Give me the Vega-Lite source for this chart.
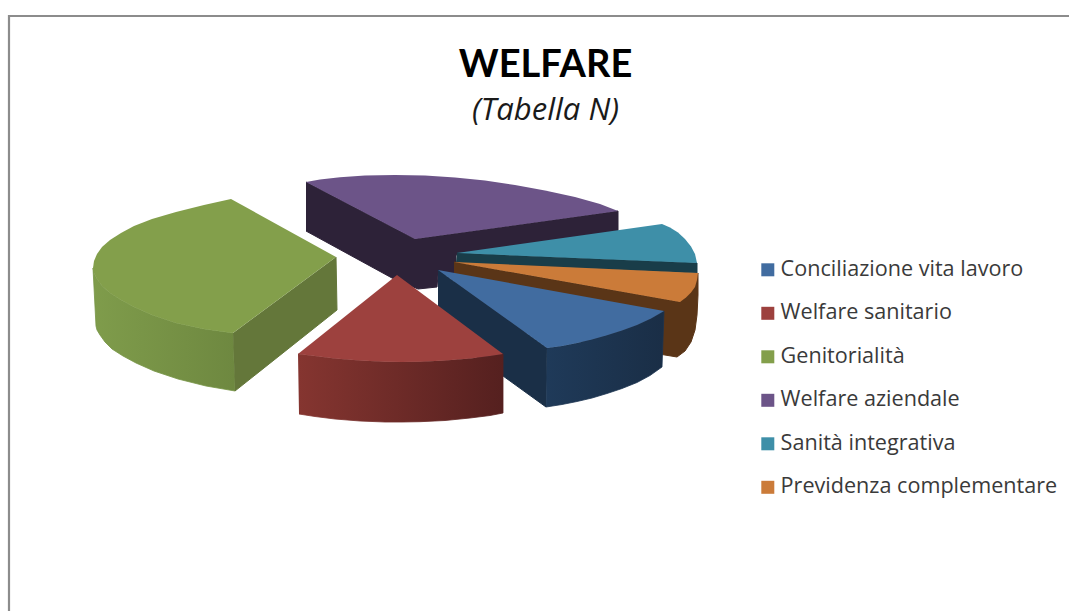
{"$schema":"https://vega.github.io/schema/vega-lite/v6.json","width":1069,"height":611,"padding":0,"autosize":{"type":"none"},"background":"#ffffff","view":{"stroke":null},
"title":{"text":"WELFARE","subtitle":"(Tabella N)","anchor":"middle","frame":"group","dx":11,"dy":156,"baseline":"alphabetic","font":"Lato","fontSize":38,"fontWeight":"bold","color":"#000000","subtitleFont":"Open Sans","subtitleFontSize":31,"subtitleFontStyle":"italic","subtitleColor":"#1a1a1a","subtitlePadding":5,"offset":0},
"datasets":{"outline":[
{"face":"frame","slice":"frame","n":0,"x":9,"y":611},{"face":"frame","slice":"frame","n":1,"x":9,"y":16},{"face":"frame","slice":"frame","n":2,"x":1069,"y":16},
{"face":"purple_wall","slice":"Welfare aziendale","n":0,"x":306,"y":182},{"face":"purple_wall","slice":"Welfare aziendale","n":1,"x":415,"y":239},{"face":"purple_wall","slice":"Welfare aziendale","n":2,"x":618,"y":211},{"face":"purple_wall","slice":"Welfare aziendale","n":3,"x":618,"y":231},{"face":"purple_wall","slice":"Welfare aziendale","n":4,"x":456,"y":255},{"face":"purple_wall","slice":"Welfare aziendale","n":5,"x":456,"y":275},{"face":"purple_wall","slice":"Welfare aziendale","n":6,"x":438,"y":275},{"face":"purple_wall","slice":"Welfare aziendale","n":7,"x":437,"y":287},{"face":"purple_wall","slice":"Welfare aziendale","n":8,"x":418,"y":289},{"face":"purple_wall","slice":"Welfare aziendale","n":9,"x":392,"y":278},{"face":"purple_wall","slice":"Welfare aziendale","n":10,"x":306,"y":231},
{"face":"purple_top","slice":"Welfare aziendale","n":0,"x":306,"y":182},{"face":"purple_top","slice":"Welfare aziendale","n":1,"x":320,"y":179.5},{"face":"purple_top","slice":"Welfare aziendale","n":2,"x":340,"y":177.2},{"face":"purple_top","slice":"Welfare aziendale","n":3,"x":365,"y":175.6},{"face":"purple_top","slice":"Welfare aziendale","n":4,"x":395,"y":175},{"face":"purple_top","slice":"Welfare aziendale","n":5,"x":425,"y":175.6},{"face":"purple_top","slice":"Welfare aziendale","n":6,"x":455,"y":177.5},{"face":"purple_top","slice":"Welfare aziendale","n":7,"x":485,"y":180.6},{"face":"purple_top","slice":"Welfare aziendale","n":8,"x":515,"y":185},{"face":"purple_top","slice":"Welfare aziendale","n":9,"x":545,"y":190.4},{"face":"purple_top","slice":"Welfare aziendale","n":10,"x":575,"y":197},{"face":"purple_top","slice":"Welfare aziendale","n":11,"x":600,"y":204},{"face":"purple_top","slice":"Welfare aziendale","n":12,"x":618,"y":211},{"face":"purple_top","slice":"Welfare aziendale","n":13,"x":415,"y":239},
{"face":"teal_wall","slice":"Sanità integrativa","n":0,"x":457,"y":253},{"face":"teal_wall","slice":"Sanità integrativa","n":1,"x":697,"y":263},{"face":"teal_wall","slice":"Sanità integrativa","n":2,"x":697,"y":273},{"face":"teal_wall","slice":"Sanità integrativa","n":3,"x":456,"y":263},
{"face":"teal_top","slice":"Sanità integrativa","n":0,"x":457,"y":253},{"face":"teal_top","slice":"Sanità integrativa","n":1,"x":662,"y":224},{"face":"teal_top","slice":"Sanità integrativa","n":2,"x":670,"y":227.5},{"face":"teal_top","slice":"Sanità integrativa","n":3,"x":678,"y":232.5},{"face":"teal_top","slice":"Sanità integrativa","n":4,"x":685,"y":239},{"face":"teal_top","slice":"Sanità integrativa","n":5,"x":691,"y":246.5},{"face":"teal_top","slice":"Sanità integrativa","n":6,"x":695,"y":254},{"face":"teal_top","slice":"Sanità integrativa","n":7,"x":697,"y":263},
{"face":"orange_wall","slice":"Previdenza complementare","n":0,"x":454,"y":262},{"face":"orange_wall","slice":"Previdenza complementare","n":1,"x":680,"y":302},{"face":"orange_wall","slice":"Previdenza complementare","n":2,"x":698,"y":273},{"face":"orange_wall","slice":"Previdenza complementare","n":3,"x":698,"y":295},{"face":"orange_wall","slice":"Previdenza complementare","n":4,"x":697,"y":315},{"face":"orange_wall","slice":"Previdenza complementare","n":5,"x":695,"y":330},{"face":"orange_wall","slice":"Previdenza complementare","n":6,"x":691,"y":342},{"face":"orange_wall","slice":"Previdenza complementare","n":7,"x":685,"y":351},{"face":"orange_wall","slice":"Previdenza complementare","n":8,"x":677,"y":357},{"face":"orange_wall","slice":"Previdenza complementare","n":9,"x":454,"y":320},
{"face":"orange_top","slice":"Previdenza complementare","n":0,"x":454,"y":262},{"face":"orange_top","slice":"Previdenza complementare","n":1,"x":698,"y":273},{"face":"orange_top","slice":"Previdenza complementare","n":2,"x":697,"y":280},{"face":"orange_top","slice":"Previdenza complementare","n":3,"x":695,"y":287},{"face":"orange_top","slice":"Previdenza complementare","n":4,"x":691,"y":292.5},{"face":"orange_top","slice":"Previdenza complementare","n":5,"x":686,"y":297.5},{"face":"orange_top","slice":"Previdenza complementare","n":6,"x":680,"y":302},
{"face":"blue_wall","slice":"Conciliazione vita lavoro","n":0,"x":438,"y":270},{"face":"blue_wall","slice":"Conciliazione vita lavoro","n":1,"x":547,"y":348},{"face":"blue_wall","slice":"Conciliazione vita lavoro","n":2,"x":546,"y":407},{"face":"blue_wall","slice":"Conciliazione vita lavoro","n":3,"x":438,"y":329},
{"face":"blue_outer","slice":"Conciliazione vita lavoro","n":0,"x":547,"y":348},{"face":"blue_outer","slice":"Conciliazione vita lavoro","n":1,"x":562,"y":346},{"face":"blue_outer","slice":"Conciliazione vita lavoro","n":2,"x":577,"y":343},{"face":"blue_outer","slice":"Conciliazione vita lavoro","n":3,"x":592,"y":339.5},{"face":"blue_outer","slice":"Conciliazione vita lavoro","n":4,"x":607,"y":335.2},{"face":"blue_outer","slice":"Conciliazione vita lavoro","n":5,"x":622,"y":330.5},{"face":"blue_outer","slice":"Conciliazione vita lavoro","n":6,"x":637,"y":325},{"face":"blue_outer","slice":"Conciliazione vita lavoro","n":7,"x":651,"y":318.5},{"face":"blue_outer","slice":"Conciliazione vita lavoro","n":8,"x":664,"y":311},{"face":"blue_outer","slice":"Conciliazione vita lavoro","n":9,"x":662,"y":367},{"face":"blue_outer","slice":"Conciliazione vita lavoro","n":10,"x":650,"y":375.5},{"face":"blue_outer","slice":"Conciliazione vita lavoro","n":11,"x":637,"y":382.5},{"face":"blue_outer","slice":"Conciliazione vita lavoro","n":12,"x":622,"y":388.5},{"face":"blue_outer","slice":"Conciliazione vita lavoro","n":13,"x":607,"y":393.5},{"face":"blue_outer","slice":"Conciliazione vita lavoro","n":14,"x":592,"y":398},{"face":"blue_outer","slice":"Conciliazione vita lavoro","n":15,"x":577,"y":401.5},{"face":"blue_outer","slice":"Conciliazione vita lavoro","n":16,"x":562,"y":404.5},{"face":"blue_outer","slice":"Conciliazione vita lavoro","n":17,"x":546,"y":407},
{"face":"blue_top","slice":"Conciliazione vita lavoro","n":0,"x":438,"y":270},{"face":"blue_top","slice":"Conciliazione vita lavoro","n":1,"x":664,"y":311},{"face":"blue_top","slice":"Conciliazione vita lavoro","n":2,"x":651,"y":318.5},{"face":"blue_top","slice":"Conciliazione vita lavoro","n":3,"x":637,"y":325},{"face":"blue_top","slice":"Conciliazione vita lavoro","n":4,"x":622,"y":330.5},{"face":"blue_top","slice":"Conciliazione vita lavoro","n":5,"x":607,"y":335.2},{"face":"blue_top","slice":"Conciliazione vita lavoro","n":6,"x":592,"y":339.5},{"face":"blue_top","slice":"Conciliazione vita lavoro","n":7,"x":577,"y":343},{"face":"blue_top","slice":"Conciliazione vita lavoro","n":8,"x":562,"y":346},{"face":"blue_top","slice":"Conciliazione vita lavoro","n":9,"x":547,"y":348},
{"face":"green_wall","slice":"Genitorialità","n":0,"x":336,"y":257},{"face":"green_wall","slice":"Genitorialità","n":1,"x":337,"y":310},{"face":"green_wall","slice":"Genitorialità","n":2,"x":235,"y":391},{"face":"green_wall","slice":"Genitorialità","n":3,"x":233,"y":333},
{"face":"green_outer","slice":"Genitorialità","n":0,"x":233,"y":333},{"face":"green_outer","slice":"Genitorialità","n":1,"x":204,"y":329},{"face":"green_outer","slice":"Genitorialità","n":2,"x":176,"y":323},{"face":"green_outer","slice":"Genitorialità","n":3,"x":152,"y":315},{"face":"green_outer","slice":"Genitorialità","n":4,"x":134,"y":307},{"face":"green_outer","slice":"Genitorialità","n":5,"x":121,"y":300},{"face":"green_outer","slice":"Genitorialità","n":6,"x":110,"y":293},{"face":"green_outer","slice":"Genitorialità","n":7,"x":102,"y":286},{"face":"green_outer","slice":"Genitorialità","n":8,"x":97,"y":279},{"face":"green_outer","slice":"Genitorialità","n":9,"x":94,"y":273},{"face":"green_outer","slice":"Genitorialità","n":10,"x":93,"y":268},{"face":"green_outer","slice":"Genitorialità","n":11,"x":96,"y":326},{"face":"green_outer","slice":"Genitorialità","n":12,"x":97,"y":330},{"face":"green_outer","slice":"Genitorialità","n":13,"x":100,"y":335},{"face":"green_outer","slice":"Genitorialità","n":14,"x":105,"y":342},{"face":"green_outer","slice":"Genitorialità","n":15,"x":112,"y":349},{"face":"green_outer","slice":"Genitorialità","n":16,"x":123,"y":356},{"face":"green_outer","slice":"Genitorialità","n":17,"x":136,"y":363},{"face":"green_outer","slice":"Genitorialità","n":18,"x":154,"y":371},{"face":"green_outer","slice":"Genitorialità","n":19,"x":178,"y":379},{"face":"green_outer","slice":"Genitorialità","n":20,"x":206,"y":386},{"face":"green_outer","slice":"Genitorialità","n":21,"x":235,"y":391},
{"face":"green_top","slice":"Genitorialità","n":0,"x":231,"y":199},{"face":"green_top","slice":"Genitorialità","n":1,"x":336,"y":257},{"face":"green_top","slice":"Genitorialità","n":2,"x":233,"y":333},{"face":"green_top","slice":"Genitorialità","n":3,"x":204,"y":329},{"face":"green_top","slice":"Genitorialità","n":4,"x":176,"y":323},{"face":"green_top","slice":"Genitorialità","n":5,"x":152,"y":315},{"face":"green_top","slice":"Genitorialità","n":6,"x":134,"y":307},{"face":"green_top","slice":"Genitorialità","n":7,"x":121,"y":300},{"face":"green_top","slice":"Genitorialità","n":8,"x":110,"y":293},{"face":"green_top","slice":"Genitorialità","n":9,"x":102,"y":286},{"face":"green_top","slice":"Genitorialità","n":10,"x":97,"y":279},{"face":"green_top","slice":"Genitorialità","n":11,"x":94,"y":273},{"face":"green_top","slice":"Genitorialità","n":12,"x":93,"y":268},{"face":"green_top","slice":"Genitorialità","n":13,"x":94,"y":261},{"face":"green_top","slice":"Genitorialità","n":14,"x":97,"y":254},{"face":"green_top","slice":"Genitorialità","n":15,"x":102,"y":247},{"face":"green_top","slice":"Genitorialità","n":16,"x":110,"y":240},{"face":"green_top","slice":"Genitorialità","n":17,"x":121,"y":233},{"face":"green_top","slice":"Genitorialità","n":18,"x":134,"y":226},{"face":"green_top","slice":"Genitorialità","n":19,"x":152,"y":219},{"face":"green_top","slice":"Genitorialità","n":20,"x":176,"y":212},{"face":"green_top","slice":"Genitorialità","n":21,"x":204,"y":205},
{"face":"red_outer","slice":"Welfare sanitario","n":0,"x":298,"y":354},{"face":"red_outer","slice":"Welfare sanitario","n":1,"x":315,"y":356.1},{"face":"red_outer","slice":"Welfare sanitario","n":2,"x":335,"y":358.5},{"face":"red_outer","slice":"Welfare sanitario","n":3,"x":360,"y":360.6},{"face":"red_outer","slice":"Welfare sanitario","n":4,"x":385,"y":361.8},{"face":"red_outer","slice":"Welfare sanitario","n":5,"x":402,"y":362},{"face":"red_outer","slice":"Welfare sanitario","n":6,"x":420,"y":361.7},{"face":"red_outer","slice":"Welfare sanitario","n":7,"x":445,"y":360.6},{"face":"red_outer","slice":"Welfare sanitario","n":8,"x":470,"y":358.4},{"face":"red_outer","slice":"Welfare sanitario","n":9,"x":490,"y":356},{"face":"red_outer","slice":"Welfare sanitario","n":10,"x":503,"y":354},{"face":"red_outer","slice":"Welfare sanitario","n":11,"x":503,"y":413},{"face":"red_outer","slice":"Welfare sanitario","n":12,"x":490,"y":415.5},{"face":"red_outer","slice":"Welfare sanitario","n":13,"x":470,"y":418},{"face":"red_outer","slice":"Welfare sanitario","n":14,"x":445,"y":420.5},{"face":"red_outer","slice":"Welfare sanitario","n":15,"x":420,"y":421.7},{"face":"red_outer","slice":"Welfare sanitario","n":16,"x":402,"y":422},{"face":"red_outer","slice":"Welfare sanitario","n":17,"x":385,"y":422},{"face":"red_outer","slice":"Welfare sanitario","n":18,"x":360,"y":421},{"face":"red_outer","slice":"Welfare sanitario","n":19,"x":335,"y":419},{"face":"red_outer","slice":"Welfare sanitario","n":20,"x":315,"y":416.5},{"face":"red_outer","slice":"Welfare sanitario","n":21,"x":299,"y":414},
{"face":"red_top","slice":"Welfare sanitario","n":0,"x":397,"y":275},{"face":"red_top","slice":"Welfare sanitario","n":1,"x":503,"y":354},{"face":"red_top","slice":"Welfare sanitario","n":2,"x":490,"y":356},{"face":"red_top","slice":"Welfare sanitario","n":3,"x":470,"y":358.4},{"face":"red_top","slice":"Welfare sanitario","n":4,"x":445,"y":360.6},{"face":"red_top","slice":"Welfare sanitario","n":5,"x":420,"y":361.7},{"face":"red_top","slice":"Welfare sanitario","n":6,"x":402,"y":362},{"face":"red_top","slice":"Welfare sanitario","n":7,"x":385,"y":361.8},{"face":"red_top","slice":"Welfare sanitario","n":8,"x":360,"y":360.6},{"face":"red_top","slice":"Welfare sanitario","n":9,"x":335,"y":358.5},{"face":"red_top","slice":"Welfare sanitario","n":10,"x":315,"y":356.1},{"face":"red_top","slice":"Welfare sanitario","n":11,"x":298,"y":354}
]},
"data":{"name":"outline"},
"encoding":{"x":{"field":"x","type":"quantitative","scale":{"domain":[0,1069],"nice":false,"zero":false},"axis":null},"y":{"field":"y","type":"quantitative","scale":{"domain":[611,0],"nice":false,"zero":false},"axis":null},"order":{"field":"n","type":"quantitative"}},
"layer":[
{"transform":[{"filter":"datum.face=='frame'"}],"mark":{"type":"line","color":"#8c8c8c","strokeWidth":2.2,"clip":false}},
{"transform":[{"filter":"datum.face=='purple_wall'"}],"mark":{"type":"line","filled":true,"fill":"#2d2238","stroke":"#2d2238","strokeWidth":1}},
{"transform":[{"filter":"datum.face=='purple_top'"}],"mark":{"type":"line","filled":true,"strokeWidth":0},"encoding":{"color":{"field":"slice","type":"nominal"}}},
{"transform":[{"filter":"datum.face=='teal_wall'"}],"mark":{"type":"line","filled":true,"fill":"#193d49","stroke":"#193d49","strokeWidth":1}},
{"transform":[{"filter":"datum.face=='teal_top'"}],"mark":{"type":"line","filled":true,"strokeWidth":0},"encoding":{"color":{"field":"slice","type":"nominal"}}},
{"transform":[{"filter":"datum.face=='orange_wall'"}],"mark":{"type":"line","filled":true,"fill":"#5a3517","stroke":"#5a3517","strokeWidth":1}},
{"transform":[{"filter":"datum.face=='orange_top'"}],"mark":{"type":"line","filled":true,"strokeWidth":0},"encoding":{"color":{"field":"slice","type":"nominal"}}},
{"transform":[{"filter":"datum.face=='blue_wall'"}],"mark":{"type":"line","filled":true,"fill":"#1a2f47","stroke":"#1a2f47","strokeWidth":1}},
{"transform":[{"filter":"datum.face=='blue_outer'"}],"mark":{"type":"line","filled":true,"strokeWidth":0.8,"stroke":"#1c3350","fill":{"gradient":"linear","x1":0,"x2":1,"y1":0,"y2":0,"stops":[{"offset":0,"color":"#1f3a59"},{"offset":1,"color":"#1a2e46"}]}}},
{"transform":[{"filter":"datum.face=='blue_top'"}],"mark":{"type":"line","filled":true,"strokeWidth":0},"encoding":{"color":{"field":"slice","type":"nominal"}}},
{"transform":[{"filter":"datum.face=='green_wall'"}],"mark":{"type":"line","filled":true,"fill":"#64773a","stroke":"#64773a","strokeWidth":1}},
{"transform":[{"filter":"datum.face=='green_outer'"}],"mark":{"type":"line","filled":true,"strokeWidth":0.8,"stroke":"#769445","fill":{"gradient":"linear","x1":0,"x2":1,"y1":0,"y2":0,"stops":[{"offset":0,"color":"#7f9c4b"},{"offset":1,"color":"#6e8840"}]}}},
{"transform":[{"filter":"datum.face=='green_top'"}],"mark":{"type":"line","filled":true,"strokeWidth":0},"encoding":{"color":{"field":"slice","type":"nominal"}}},
{"transform":[{"filter":"datum.face=='red_outer'"}],"mark":{"type":"line","filled":true,"strokeWidth":0.8,"stroke":{"gradient":"linear","x1":0,"x2":1,"y1":0,"y2":0,"stops":[{"offset":0,"color":"#853530"},{"offset":1,"color":"#55201f"}]},"fill":{"gradient":"linear","x1":0,"x2":1,"y1":0,"y2":0,"stops":[{"offset":0,"color":"#853530"},{"offset":1,"color":"#55201f"}]}}},
{"transform":[{"filter":"datum.face=='red_top'"}],"mark":{"type":"line","filled":true,"strokeWidth":0},
"encoding":{"color":{"field":"slice","type":"nominal","scale":{"domain":["Conciliazione vita lavoro","Welfare sanitario","Genitorialità","Welfare aziendale","Sanità integrativa","Previdenza complementare"],"range":["#416ca0","#9d413e","#839f4b","#6c5488","#3e8fa8","#cb7b39"]},
"legend":{"orient":"none","legendX":757,"legendY":259,"title":null,"symbolType":"square","symbolSize":169,"symbolStrokeWidth":0,"labelFont":"Open Sans","labelFontSize":21.6,"labelColor":"#3a3a3a","labelLimit":320,"labelOffset":2,"rowPadding":20.5,"padding":0}}}}
]}
